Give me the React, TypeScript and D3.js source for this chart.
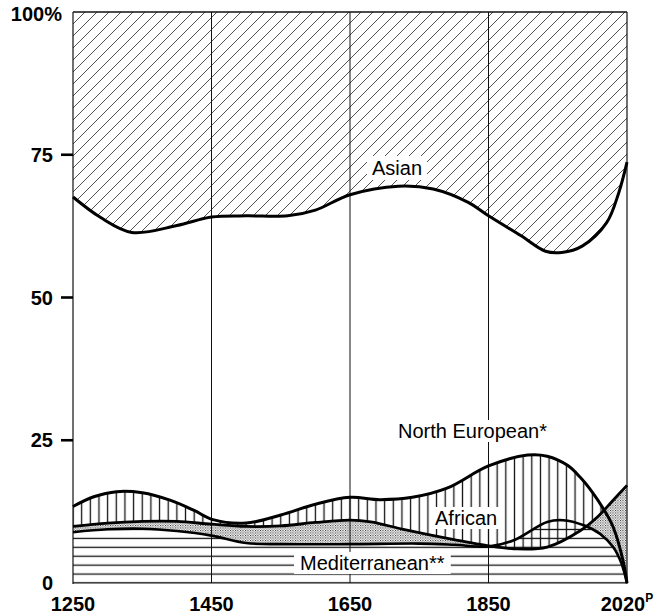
import React, { useEffect, useRef } from 'react';
import * as d3 from 'd3';

// ---- Data ----
const xTickYears = [1250, 1450, 1650, 1850, 2020];
const xTickLabels = ['1250', '1450', '1650', '1850', '2020'];
const yTickValues = [0, 25, 50, 75];
const yTickLabels = ['0', '25', '50', '75'];
const yTopLabel = '100%';

const asianYears = [1250, 1290, 1335, 1400, 1450, 1500, 1560, 1600, 1650, 1720, 1770, 1820, 1850, 1890, 1920, 1940, 1965, 1995, 2010, 2020];
const asianValues = [67.6, 64.0, 61.4, 62.6, 64.1, 64.3, 64.3, 65.3, 68.0, 69.5, 69.0, 66.7, 64.3, 60.8, 58.1, 57.9, 59.0, 63.1, 68.4, 73.7];

const neYears = [1250, 1280, 1313, 1350, 1390, 1425, 1452, 1500, 1550, 1600, 1650, 1693, 1740, 1790, 1850, 1898, 1922, 1947, 1962, 1978, 1991, 2003, 2015, 2020];
const neValues = [13.4, 15.1, 16.0, 15.8, 14.5, 12.7, 11.1, 10.5, 11.9, 13.8, 15.0, 14.6, 15.0, 16.6, 20.5, 22.4, 22.2, 20.6, 18.6, 15.8, 13.0, 9.8, 4.0, 0];

const africanYears = [1250, 1300, 1350, 1400, 1450, 1500, 1550, 1600, 1650, 1680, 1727, 1800, 1850, 1881, 1922, 1963, 1984, 2003, 2020];
const africanValues = [9.9, 10.5, 10.8, 10.8, 10.3, 9.9, 10.0, 10.6, 11.0, 10.7, 9.4, 7.6, 6.5, 6.0, 6.3, 9.2, 11.6, 14.5, 17.1];

const medYears = [1250, 1300, 1350, 1400, 1450, 1500, 1550, 1650, 1750, 1800, 1850, 1881, 1922, 1942, 1967, 1987, 2003, 2013, 2020];
const medValues = [8.9, 9.4, 9.5, 9.1, 8.3, 7.0, 6.8, 6.8, 6.9, 6.7, 6.4, 7.5, 10.7, 11.0, 10.1, 8.6, 6.3, 3.5, 0];

const labelAsian = 'Asian';
const labelNE = 'North European*';
const labelAfrican = 'African';
const labelMed = 'Mediterranean**';

type Pt = [number, number];
const zip = (a: number[], b: number[]): Pt[] => a.map((v, i) => [v, b[i]]);

export default function App() {
  const ref = useRef<SVGSVGElement>(null);

  useEffect(() => {
    document.body.style.margin = '0';
    const svg = d3.select(ref.current!);
    svg.selectAll('*').remove();

    const font = "'Liberation Sans', Arial, Helvetica, sans-serif";
    const x = d3.scaleLinear()
      .domain(xTickYears)
      .range(xTickYears.map((_, i) => 73 + i * 138.5));
    const y = d3.scaleLinear().domain([0, 100]).range([583, 12]);

    const asian = zip(asianYears, asianValues);
    const ne = zip(neYears, neValues);
    const af = zip(africanYears, africanValues);
    const med = zip(medYears, medValues);

    const curve = d3.curveCatmullRom.alpha(0.5);
    const line = d3.line<Pt>().x(d => x(d[0])).y(d => y(d[1])).curve(curve);
    const areaBelow = d3.area<Pt>().x(d => x(d[0])).y0(y(0) + 3).y1(d => y(d[1])).curve(curve);
    const areaAbove = d3.area<Pt>().x(d => x(d[0])).y0(y(100) - 3).y1(d => y(d[1])).curve(curve);
    const areaAboveTop = d3.area<Pt>().x(d => x(d[0])).y0(y(100)).y1(d => y(d[1])).curve(curve);

    const defs = svg.append('defs');
    const vSp = (x(1450) - x(1250)) / 16;
    const hSp = (y(0) - y(25)) / 16;

    const pv = defs.append('pattern').attr('id', 'vert').attr('patternUnits', 'userSpaceOnUse')
      .attr('x', x(1250) - vSp / 2).attr('y', 0).attr('width', vSp).attr('height', 20);
    pv.append('line').attr('x1', vSp / 2).attr('x2', vSp / 2).attr('y1', 0).attr('y2', 20)
      .attr('stroke', '#111').attr('stroke-width', 1.3);

    const ph = defs.append('pattern').attr('id', 'horiz').attr('patternUnits', 'userSpaceOnUse')
      .attr('x', 0).attr('y', y(0) - hSp / 2).attr('width', 20).attr('height', hSp);
    ph.append('line').attr('x1', 0).attr('x2', 20).attr('y1', hSp / 2).attr('y2', hSp / 2)
      .attr('stroke', '#111').attr('stroke-width', 1.3);

    const dS = 12;
    const pd = defs.append('pattern').attr('id', 'diag').attr('patternUnits', 'userSpaceOnUse')
      .attr('x', x(1250)).attr('y', 0).attr('width', dS).attr('height', dS);
    pd.append('path')
      .attr('d', `M0,${dS} L${dS},0 M${-dS / 4},${dS / 4} L${dS / 4},${-dS / 4} M${dS - dS / 4},${dS + dS / 4} L${dS + dS / 4},${dS - dS / 4}`)
      .attr('stroke', '#333').attr('stroke-width', 0.85);

    const pdot = defs.append('pattern').attr('id', 'dots').attr('patternUnits', 'userSpaceOnUse')
      .attr('width', 2.5).attr('height', 2.5);
    pdot.append('rect').attr('x', 0).attr('y', 0).attr('width', 1).attr('height', 1).attr('fill', '#222');
    pdot.append('rect').attr('x', 1.25).attr('y', 1.25).attr('width', 1).attr('height', 1).attr('fill', '#444');

    defs.append('clipPath').attr('id', 'aboveAf').append('path').attr('d', areaAbove(af)!);
    defs.append('clipPath').attr('id', 'aboveMed').append('path').attr('d', areaAbove(med)!);
    defs.append('clipPath').attr('id', 'plot').append('rect')
      .attr('x', x(1250)).attr('y', y(100)).attr('width', x(2020) - x(1250)).attr('height', y(0) - y(100));

    const g = svg.append('g').attr('clip-path', 'url(#plot)');

    // Asian hatch (from curve to 100%)
    g.append('path').attr('d', areaAboveTop(asian)!).attr('fill', 'url(#diag)');
    // Mediterranean horizontal hatch
    g.append('path').attr('d', areaBelow(med)!).attr('fill', 'url(#horiz)');
    // African dots: between Med and African (where African is above)
    g.append('g').attr('clip-path', 'url(#aboveMed)')
      .append('path').attr('d', areaBelow(af)!).attr('fill', 'url(#dots)');
    // North European vertical hatch: between African and NE
    g.append('g').attr('clip-path', 'url(#aboveAf)')
      .append('path').attr('d', areaBelow(ne)!).attr('fill', 'url(#vert)');

    // Frame and grid
    const frame = svg.append('g').attr('stroke', '#111').attr('fill', 'none');
    [1450, 1650, 1850].forEach(yr => {
      frame.append('line').attr('x1', x(yr)).attr('x2', x(yr)).attr('y1', y(100)).attr('y2', y(0)).attr('stroke-width', 1);
    });
    frame.append('line').attr('x1', x(1250)).attr('x2', x(1250)).attr('y1', y(100)).attr('y2', y(0) + 1).attr('stroke-width', 1.2);
    frame.append('line').attr('x1', x(2020)).attr('x2', x(2020)).attr('y1', y(100)).attr('y2', y(0) + 1).attr('stroke-width', 1.2);
    frame.append('line').attr('x1', x(1250)).attr('x2', x(2020)).attr('y1', y(100)).attr('y2', y(100)).attr('stroke-width', 1.4);
    frame.append('line').attr('x1', x(1250)).attr('x2', x(2020)).attr('y1', y(0)).attr('y2', y(0)).attr('stroke-width', 1.2);

    // Curves
    const lines = svg.append('g').attr('fill', 'none').attr('stroke', '#000').attr('stroke-linejoin', 'round');
    lines.append('path').attr('d', line(asian)!).attr('stroke-width', 3);
    lines.append('path').attr('d', line(med)!).attr('stroke-width', 2.6);
    lines.append('path').attr('d', line(af)!).attr('stroke-width', 2.8);
    lines.append('path').attr('d', line(ne)!).attr('stroke-width', 3);

    // Y ticks and labels
    const yAxis = svg.append('g');
    yTickValues.forEach((v, i) => {
      if (v > 0) {
        yAxis.append('line').attr('x1', x(1250) - 12).attr('x2', x(1250)).attr('y1', y(v)).attr('y2', y(v))
          .attr('stroke', '#000').attr('stroke-width', 2.6);
      }
      yAxis.append('text').attr('x', 53).attr('y', y(v) + 7).attr('text-anchor', 'end')
        .attr('font-family', font).attr('font-size', 20).attr('font-weight', 'bold').text(yTickLabels[i]);
    });
    yAxis.append('text').attr('x', 62).attr('y', y(100) + 9).attr('text-anchor', 'end')
      .attr('font-family', font).attr('font-size', 20).attr('font-weight', 'bold').text(yTopLabel);

    // X labels
    const xAxis = svg.append('g');
    xTickYears.forEach((yr, i) => {
      const t = xAxis.append('text').attr('x', x(yr)).attr('y', 611).attr('text-anchor', 'middle')
        .attr('font-family', font).attr('font-size', 20).attr('font-weight', 'bold');
      t.append('tspan').text(xTickLabels[i]);
      if (yr === 2020) {
        t.append('tspan').attr('font-size', 12).attr('dy', -9).text('P');
      }
    });

    // Category labels with white backgrounds
    const addLabel = (txt: string, lx: number, ly: number, padX: number, padY: number) => {
      const lg = svg.append('g');
      const t = lg.append('text').attr('x', lx).attr('y', ly)
        .attr('font-family', font).attr('font-size', 20).text(txt);
      const bb = (t.node() as SVGTextElement).getBBox();
      lg.insert('rect', 'text').attr('x', bb.x - padX).attr('y', bb.y - padY + 2)
        .attr('width', bb.width + 2 * padX).attr('height', bb.height + 2 * padY - 4).attr('fill', '#fff');
    };
    addLabel(labelAsian, 372, 175, 5, 3);
    addLabel(labelNE, 398, 438, 3, 2);
    addLabel(labelAfrican, 435, 525, 4, 2);
    addLabel(labelMed, 300, 570, 6, 2);
  }, []);

  return <svg ref={ref} width={666} height={615} style={{ display: 'block', background: '#fff' }} />;
}
